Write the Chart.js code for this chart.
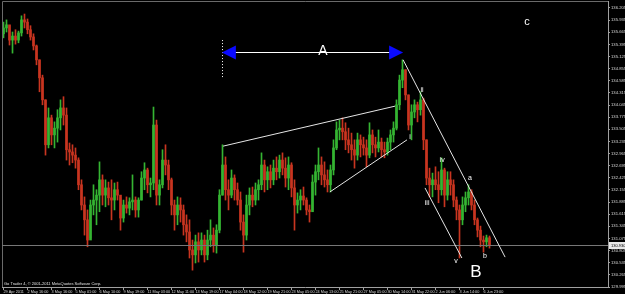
<!DOCTYPE html>
<html><head><meta charset="utf-8">
<style>html,body{margin:0;padding:0;background:#000;overflow:hidden}canvas{display:block}</style>
<script src="https://cdn.jsdelivr.net/npm/chart.js@4.4.1/dist/chart.umd.min.js"></script>
</head><body>
<canvas id="c" width="625" height="294"></canvas>
<script>
// ---- data (GBPJPY H1, 29 Apr - 6 Jun 2011, one bar per sampled period) ----
const firstOpen = 135.63;
const high = [
135.89,135.94,135.81,135.67,135.72,135.69,136.03,136.07,135.96,135.81,
135.63,135.38,135.05,134.71,134.16,133.98,133.82,133.67,133.94,134.16,
134.23,133.98,133.20,133.16,133.09,132.87,132.38,132.00,131.71,131.93,
132.27,132.16,132.78,132.49,132.38,132.33,132.38,132.31,132.33,131.98,
131.93,132.00,131.98,132.49,132.00,131.98,132.56,132.76,132.64,132.42,
134.00,133.71,132.38,133.05,133.16,132.82,132.42,131.93,132.00,131.98,
131.82,131.60,131.49,131.04,131.15,131.20,131.20,131.15,131.26,131.49,
131.31,131.38,132.16,133.16,132.89,132.38,132.60,132.49,132.31,132.11,
131.60,132.04,132.20,132.22,132.31,132.38,132.98,132.82,132.67,132.71,
132.82,132.89,132.93,132.98,132.87,132.89,132.76,132.38,132.09,132.16,
132.22,131.98,131.82,132.49,132.71,133.09,132.89,132.78,132.60,132.71,
133.27,133.67,133.71,133.76,133.65,133.53,133.42,133.27,133.42,133.38,
133.33,133.27,133.65,133.49,133.33,133.49,133.31,133.22,133.31,133.49,
133.67,134.16,134.71,135.05,134.83,134.27,134.05,134.16,134.11,134.34,
134.20,133.27,132.64,132.53,132.67,132.56,132.87,132.64,132.56,132.56,
132.38,132.00,131.82,132.00,132.11,132.27,132.16,131.93,131.53,131.35,
131.13,131.15,131.13];
const low = [
135.54,135.67,135.38,135.20,135.40,135.43,135.58,135.76,135.63,135.49,
135.27,134.94,134.34,134.05,132.93,133.09,133.16,133.09,133.22,133.49,
133.60,132.82,132.71,132.76,132.64,132.16,131.71,131.15,130.89,131.09,
131.60,131.38,131.67,131.82,131.78,131.82,131.49,131.71,131.93,131.26,
131.44,131.64,131.60,131.71,131.55,131.55,131.93,132.16,132.09,132.00,
132.16,131.82,131.82,132.20,132.49,132.16,131.60,131.26,131.38,131.44,
131.15,131.00,130.64,130.37,130.53,130.55,130.71,130.55,130.60,130.89,
130.77,130.75,131.20,132.04,131.93,131.71,131.98,131.93,131.82,131.26,
130.77,131.04,131.60,131.78,131.82,131.93,132.16,132.11,132.16,132.20,
132.27,132.38,132.42,132.49,132.22,132.16,132.00,131.26,131.64,131.71,
131.82,131.60,131.44,131.71,132.04,132.38,132.27,132.22,132.11,132.11,
132.49,133.05,133.27,133.27,133.05,132.98,132.82,132.64,132.82,132.89,
132.93,132.67,132.87,132.98,132.89,133.00,132.89,132.87,132.93,133.05,
133.22,133.49,133.94,134.43,134.16,133.49,133.27,133.76,133.67,133.82,
133.05,132.27,132.00,132.00,132.16,131.87,132.04,131.78,131.93,132.04,
131.78,131.49,130.64,131.38,131.67,131.82,131.71,131.38,131.11,130.89,
130.77,130.89,130.86];
const close = [
135.76,135.83,135.49,135.58,135.49,135.65,135.94,135.89,135.72,135.56,
135.36,135.05,134.65,134.16,133.16,133.76,133.38,133.53,133.76,133.98,
133.82,133.05,133.00,132.93,132.82,132.27,131.82,131.49,131.04,131.82,
131.93,132.04,132.38,132.04,132.20,131.98,131.93,132.16,132.04,131.53,
131.82,131.75,131.89,131.93,131.71,131.93,132.42,132.60,132.27,132.31,
133.60,132.04,132.27,132.82,132.71,132.38,131.82,131.60,131.82,131.71,
131.38,131.22,130.82,130.71,131.00,130.82,131.04,130.71,131.04,131.15,
130.93,131.26,132.04,132.71,132.16,132.04,132.42,132.16,131.93,131.44,
131.15,131.82,132.04,131.93,132.16,132.27,132.71,132.38,132.56,132.38,
132.64,132.56,132.82,132.64,132.42,132.71,132.20,131.82,131.93,132.02,
131.93,131.71,131.67,132.33,132.56,132.71,132.49,132.38,132.27,132.60,
133.09,133.49,133.53,133.45,133.27,133.16,133.05,132.93,133.27,133.16,
133.09,132.93,133.38,133.16,133.09,133.22,133.05,133.00,133.22,133.38,
133.53,134.05,134.60,134.83,134.27,133.60,133.89,134.05,133.94,134.16,
133.27,132.42,132.27,132.38,132.27,132.16,132.60,132.04,132.38,132.27,
131.93,131.71,131.49,131.82,131.98,132.11,131.82,131.49,131.26,131.04,
131.00,131.09,130.93];
const currentPrice = 130.93;
const rightShiftBars = 39;
const timeLabels = ["29 Apr 2011","2 May 16:00","3 May 16:00","5 May 01:00","6 May 10:00","9 May 19:00","11 May 03:00","12 May 11:00","13 May 19:00","17 May 04:00","18 May 12:00","19 May 21:00","23 May 05:00","24 May 13:00","25 May 21:00","27 May 05:00","30 May 14:00","31 May 22:00","2 Jun 06:00","3 Jun 14:00","6 Jun 23:00"];
const timeLabelBars = [0,8,16,24,32,40,48,56,64,72,80,88,96,104,112,120,128,136,144,152,160];
const yTickValues = [129.995,130.265,130.535,130.805,131.075,131.345,131.615,131.885,132.155,132.425,132.695,132.965,133.235,133.505,133.775,134.045,134.315,134.585,134.855,135.125,135.395,135.665,135.935,136.205];
const yMin = 129.995, yMax = 136.36;
// analysis objects in (bar index, price)
const trendLines = [[73.2,133.13,130.5,134.02],[108.8,132.11,134.5,133.27],[133.2,135.05,167.2,130.66],[140.5,132.20,152.8,130.64]];
const arrowSpan = [72.8,133.2,135.22];
const dottedLine = [72.8,135.49,134.65];
const waveTags = [["A",106.5,135.25],["c",174.5,135.89],["B",157.5,130.33],["ii",139.5,134.38],["i",135.5,133.33],["iv",146.2,132.82],["iii",141.2,131.87],["a",155.5,132.42],["v",150.8,130.57],["b",160.5,130.69]];

// ---- build ----
const open = close.map((c,i)=> i===0 ? firstOpen : close[i-1]);
const nCat = close.length + rightShiftBars;
const catLabels = Array.from({length:nCat}, ()=>'');
timeLabelBars.forEach((b,k)=>{ catLabels[b] = timeLabels[k]; });
const UP='#35b432', DN='#c83520';
const colors = close.map((c,i)=> c>=open[i] ? UP : DN);
const FONT='"Liberation Sans", Arial, sans-serif';
const tagSize = {A:14,B:17,c:11};

const mt4 = {
  id:'mt4',
  beforeDraw(chart){const c=chart.ctx;c.save();c.fillStyle='#000';c.fillRect(0,0,chart.width,chart.height);c.restore();},
  afterDatasetsDraw(chart){
    const {ctx, chartArea:a, scales:{x,y}} = chart;
    const X=v=>x.getPixelForValue(v), Y=v=>y.getPixelForValue(v);
    ctx.save();
    ctx.lineWidth=1;
    ctx.strokeStyle='#6a6a6a';
    ctx.beginPath();ctx.moveTo(a.left+0.5,a.bottom);ctx.lineTo(a.left+0.5,a.top+0.5);ctx.lineTo(a.right,a.top+0.5);ctx.stroke();
    const py=Math.round(Y(currentPrice))+0.5;
    ctx.strokeStyle='#777';ctx.beginPath();ctx.moveTo(a.left,py);ctx.lineTo(a.right,py);ctx.stroke();
    ctx.strokeStyle='#e6e6e6';
    trendLines.forEach(([i1,p1,i2,p2])=>{ctx.beginPath();ctx.moveTo(X(i1),Y(p1));ctx.lineTo(X(i2),Y(p2));ctx.stroke();});
    const dx=Math.round(X(dottedLine[0]))+0.5;
    ctx.setLineDash([1,2]);ctx.strokeStyle='#ffffff';
    ctx.beginPath();ctx.moveTo(dx,Y(dottedLine[1]));ctx.lineTo(dx,Y(dottedLine[2]));ctx.stroke();
    ctx.setLineDash([]);
    const ay=Math.round(Y(arrowSpan[2]))+0.5, ax1=X(arrowSpan[0]), ax2=X(arrowSpan[1]);
    ctx.strokeStyle='#ffffff';ctx.beginPath();ctx.moveTo(ax1+12,ay);ctx.lineTo(ax2-12,ay);ctx.stroke();
    ctx.fillStyle='#0a0aff';
    ctx.beginPath();ctx.moveTo(ax1,ay);ctx.lineTo(ax1+14,ay-7);ctx.lineTo(ax1+14,ay+7);ctx.closePath();ctx.fill();
    ctx.beginPath();ctx.moveTo(ax2,ay);ctx.lineTo(ax2-14,ay-7);ctx.lineTo(ax2-14,ay+7);ctx.closePath();ctx.fill();
    ctx.fillStyle='#ffffff';ctx.textAlign='center';ctx.textBaseline='middle';
    waveTags.forEach(([t,i,p])=>{ctx.font=(tagSize[t]||7)+'px '+FONT;ctx.fillText(t,X(i),Y(p));});
    ctx.textAlign='left';ctx.textBaseline='bottom';ctx.font='4px '+FONT;ctx.fillStyle='#e0e0e0';
    ctx.fillText('Go Trader 4, \u00a9 2001-2011 MetaQuotes Software Corp.',a.left+2,a.bottom-1);
    ctx.restore();
  },
  afterDraw(chart){
    const {ctx, chartArea:a, scales:{y}} = chart;
    const py=Math.round(y.getPixelForValue(currentPrice));
    ctx.save();
    ctx.fillStyle='#e8e8e8';ctx.fillRect(a.right+1,py-3,chart.width-a.right-1,7);
    ctx.fillStyle='#000';ctx.font='4px '+FONT;ctx.textBaseline='middle';ctx.textAlign='left';
    ctx.fillText(currentPrice.toFixed(3),a.right+3,py+0.5);
    ctx.restore();
  }
};

new Chart(document.getElementById('c'),{
  type:'bar',
  data:{labels:catLabels,datasets:[
    {data:high.map((h,i)=>[low[i],h]),backgroundColor:colors,barThickness:1,grouped:false,order:2},
    {data:open.map((o,i)=>[o,close[i]]),backgroundColor:colors,barThickness:2,minBarLength:1,grouped:false,order:1}
  ]},
  options:{
    responsive:false,animation:false,devicePixelRatio:1,
    layout:{padding:{left:2,top:1,right:0,bottom:0}},
    plugins:{legend:{display:false},tooltip:{enabled:false}},
    scales:{
      x:{offset:true,
        grid:{display:true,drawOnChartArea:false,offset:false,tickLength:3,color:(c)=>(c.tick&&c.tick.label)?'#a0a0a0':'rgba(0,0,0,0)'},
        border:{display:true,color:'#a0a0a0'},
        ticks:{autoSkip:false,maxRotation:0,minRotation:0,align:'start',padding:0,color:'#d8d8d8',font:{size:3.8,family:FONT}},
        afterFit(s){s.height=7;s.paddingLeft=0;s.paddingRight=0;}
      },
      y:{position:'right',min:yMin,max:yMax,
        afterBuildTicks(s){s.ticks=yTickValues.map(v=>({value:v}));},
        grid:{display:true,drawOnChartArea:false,tickLength:2,color:'#a0a0a0'},
        border:{display:true,color:'#a0a0a0'},
        ticks:{autoSkip:false,padding:1,color:'#d8d8d8',font:{size:4.2,family:FONT},callback:(v)=>Number(v).toFixed(3)},
        afterFit(s){s.width=17;s.paddingTop=0;s.paddingBottom=0;}
      }
    }
  },
  plugins:[mt4]
});
</script>
</body></html>
